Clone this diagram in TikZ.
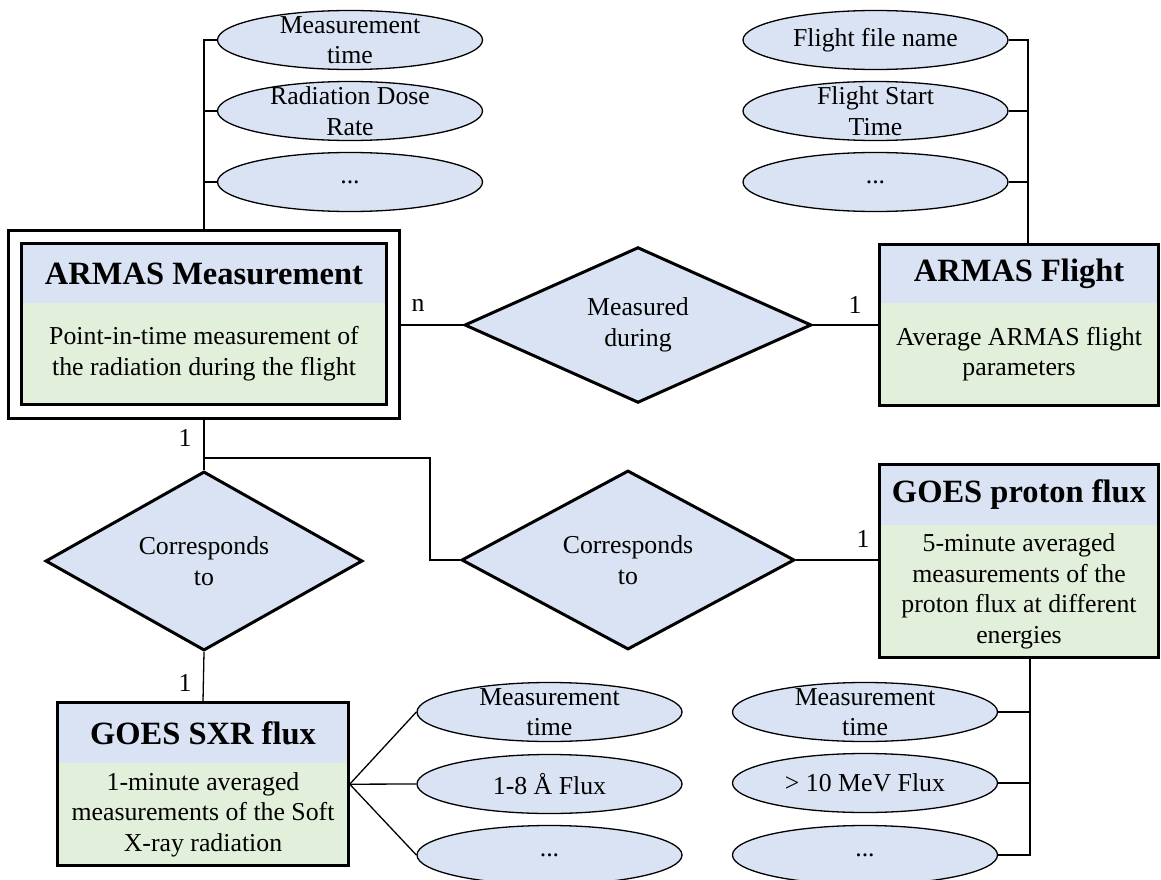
\documentclass[tikz,border=0pt]{standalone}
\usepackage{fontspec}
\setmainfont{Liberation Serif}
\usetikzlibrary{shapes.geometric,positioning,fit}
\definecolor{headblue}{HTML}{DAE3F3}
\definecolor{descgreen}{HTML}{E2EFDA}

\begin{document}
\begin{tikzpicture}[x=1pt,y=-1pt,
  head/.style={fill=headblue,inner sep=0pt,font=\fontsize{32.5}{36}\selectfont\bfseries},
  desc/.style={fill=descgreen,inner sep=0pt,align=center,font=\fontsize{25.8}{30.5}\selectfont},
  ent/.style={draw,line width=3pt,inner sep=0pt},
  attr/.style={ellipse,draw,line width=1.3pt,fill=headblue,minimum width=265pt,minimum height=59pt,inner sep=0pt},
  atext/.style={align=center,font=\fontsize{25.8}{30.5}\selectfont},
  rel/.style={diamond,draw,line width=3pt,fill=headblue,inner sep=0pt,align=center,font=\fontsize{25.8}{30.5}\selectfont},
  card/.style={font=\fontsize{25.8}{30.5}\selectfont},
  conn/.style={line width=1.3pt}]

  \useasboundingbox (0,0) rectangle (1161,880);

  % ARMAS Measurement (weak entity, double border)
  \node[head,minimum width=364pt,minimum height=59pt] (msT) at (204,273.5) {ARMAS Measurement};
  \node[desc,below=0pt of msT,minimum width=364pt,minimum height=101pt] (msB) {Point-in-time measurement of\\the radiation during the flight};
  \node[ent,fit=(msT)(msB)] (ms) {};
  \node[ent,fit=(ms),inner sep=12pt] (msO) {};

  % ARMAS Flight
  \node[head,minimum width=278pt,minimum height=58pt] (flT) at (1019,274) {ARMAS Flight};
  \node[desc,below=0pt of flT,minimum width=278pt,minimum height=102pt] (flB) {Average ARMAS flight\\parameters};
  \node[ent,fit=(flT)(flB)] (fl) {};

  % GOES proton flux
  \node[head,minimum width=278pt,minimum height=60pt] (gpT) at (1019,495) {GOES proton flux};
  \node[desc,below=0pt of gpT,minimum width=278pt,minimum height=132pt] (gpB) {5-minute averaged\\measurements of the\\proton flux at different\\energies};
  \node[ent,fit=(gpT)(gpB)] (gp) {};

  % GOES SXR flux
  \node[head,minimum width=290pt,minimum height=60pt] (sxT) at (203,733) {GOES SXR flux};
  \node[desc,below=0pt of sxT,minimum width=290pt,minimum height=102pt] (sxB) {1-minute averaged\\measurements of the Soft\\X-ray radiation};
  \node[ent,fit=(sxT)(sxB)] (sx) {};

  % relationships
  \node[rel,minimum width=347pt,minimum height=128pt] (md) at (638,325) {Measured\\during};
  \node[rel,minimum width=317pt,minimum height=128pt] (c1) at (204,561) {Corresponds\\to};
  \node[rel,minimum width=333pt,minimum height=128pt] (c2) at (628,560) {Corresponds\\to};

  % attributes
  \node[attr,label={[atext]center:Measurement\\time}] (a1) at (350,40) {};
  \node[attr,label={[atext]center:Radiation Dose\\Rate}] (a2) at (350,111) {};
  \node[attr,label={[atext]center:...}] (a3) at (350,182) {};

  \node[attr,label={[atext]center:Flight file name}] (b1) at (875.5,40) {};
  \node[attr,label={[atext]center:Flight Start\\Time}] (b2) at (875.5,111) {};
  \node[attr,label={[atext]center:...}] (b3) at (875.5,182) {};

  \node[attr,label={[atext]center:Measurement\\time}] (s1) at (549.5,712) {};
  \node[attr,label={[atext]center:1-8 Å Flux}] (s2) at (549.5,784) {};
  \node[attr,label={[atext]center:...}] (s3) at (549.5,855) {};

  \node[attr,label={[atext]center:Measurement\\time}] (p1) at (865,712) {};
  \node[attr,label={[atext]center:> 10 MeV Flux}] (p2) at (865,783) {};
  \node[attr,label={[atext]center:...}] (p3) at (865,855) {};

  % attribute connectors
  \draw[conn] (msO.north) |- (a1.west);
  \draw[conn] (msO.north |- a2.west) -- (a2.west);
  \draw[conn] (msO.north |- a3.west) -- (a3.west);

  \coordinate (flbus) at (1028,40);
  \draw[conn] (b1.east) -| (flbus |- fl.north);
  \draw[conn] (b2.east) -- (b2.east -| flbus);
  \draw[conn] (b3.east) -- (b3.east -| flbus);

  \foreach \i in {1,2,3}
    \draw[conn] (sx.east) -- (s\i.west);

  \coordinate (gpbus) at (1030,855);
  \draw[conn] (gpbus |- gp.south) -- (gpbus) -- (p3.east);
  \draw[conn] (p1.east) -- (p1.east -| gpbus);
  \draw[conn] (p2.east) -- (p2.east -| gpbus);

  % relationship connectors
  \draw[conn] (md.west -| msO.east) -- (md.west);
  \draw[conn] (md.east) -- (md.east -| fl.west);
  \coordinate (split) at (204,458);
  \coordinate (bend) at (430,458);
  \draw[conn] (msO.south) -- (c1.north);
  \draw[conn] (split) -- (bend) |- (c2.west);
  \draw[conn] (c2.east) -- (c2.east -| gp.west);
  \draw[conn] (c1.south) -- (sx.north);

  % cardinalities
  \node[card] at (418,305) {n};
  \node[card] at (855,305) {1};
  \node[card] at (185,438) {1};
  \node[card] at (863,539) {1};
  \node[card] at (185,683) {1};
\end{tikzpicture}
\end{document}
